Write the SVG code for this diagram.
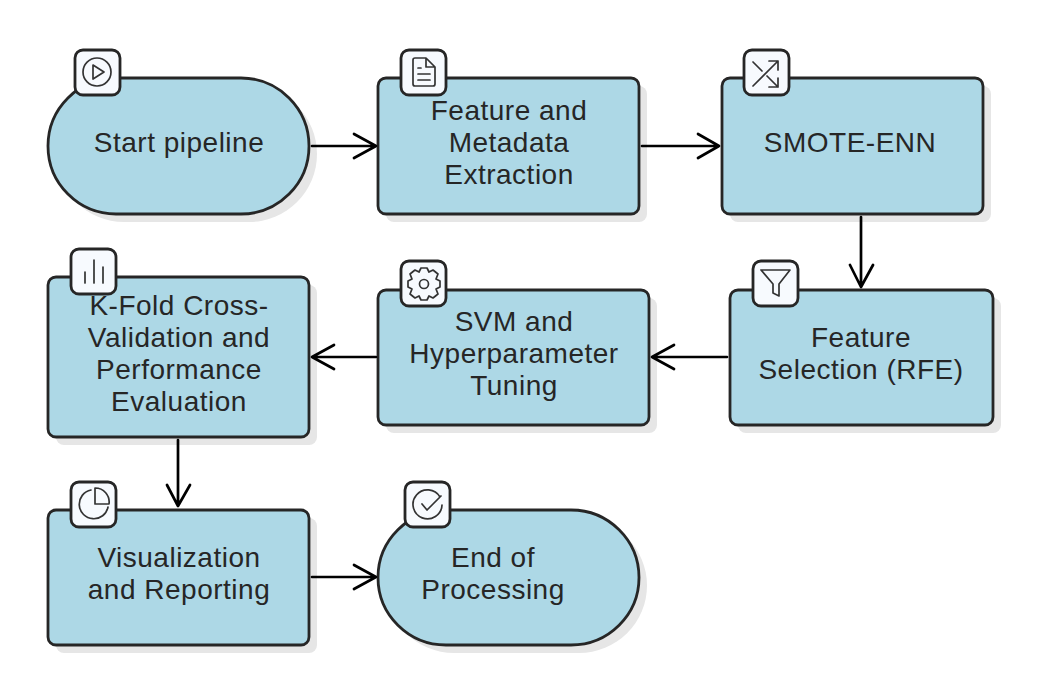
<svg xmlns="http://www.w3.org/2000/svg" width="1044" height="695" viewBox="0 0 1044 695">
<style>
.s{fill:#e6e6e6;stroke:none}
.b{fill:#add8e6;stroke:#262626;stroke-width:2.800}
.c{fill:#f7fafe;stroke:#262626;stroke-width:2.800}
.i{fill:none;stroke:#333;stroke-width:1.700;stroke-linecap:round;stroke-linejoin:round}
.t{font-family:"Liberation Sans",Arial,sans-serif;font-size:28px;letter-spacing:.5px;fill:#262626;text-anchor:middle}
.e{fill:none;stroke:#000;stroke-width:2.700;stroke-linecap:round;stroke-linejoin:round}
</style>
<g id="start">
<rect class="s" x="56" y="86" width="261" height="136" rx="68"/>
<rect class="b" x="48" y="78" width="261" height="136" rx="68"/>
<text class="t" x="179" y="152">Start pipeline</text>
<rect class="c" x="75" y="50" width="45" height="45" rx="8"/>
<circle class="i" cx="97" cy="72" r="14"/><path class="i" d="M93 65L104 72L93 79Z"/>
</g>
<g id="feature">
<rect class="s" x="386" y="86" width="261" height="136" rx="8"/>
<rect class="b" x="378" y="78" width="261" height="136" rx="8"/>
<text class="t" x="509" y="120">Feature and</text>
<text class="t" x="509" y="152">Metadata</text>
<text class="t" x="509" y="184">Extraction</text>
<rect class="c" x="401" y="50" width="45" height="45" rx="8"/>
<path class="i" d="M415 58H426L435 67V84Q435 86 433 86H415Q413 86 413 84V60Q413 58 415 58ZM426 58V67H435M418 68H421M418 74H430M418 80H430"/>
</g>
<g id="smote">
<rect class="s" x="730" y="86" width="261" height="136" rx="8"/>
<rect class="b" x="722" y="78" width="261" height="136" rx="8"/>
<text class="t" x="850" y="152">SMOTE-ENN</text>
<rect class="c" x="744" y="50" width="45" height="45" rx="8"/>
<path class="i" d="M753 86L778 61M769 61H778V70M753 62L762 71M767 76L778 87M769 87H778V78"/>
</g>
<g id="selection">
<rect class="s" x="738" y="298" width="263" height="135" rx="8"/>
<rect class="b" x="730" y="290" width="263" height="135" rx="8"/>
<text class="t" x="861" y="347">Feature</text>
<text class="t" x="861" y="379">Selection (RFE)</text>
<rect class="c" x="753" y="261" width="45" height="45" rx="8"/>
<path class="i" d="M761 270H790L779 284V296L773 293V284Z"/>
</g>
<g id="svm">
<rect class="s" x="386" y="298" width="271" height="135" rx="8"/>
<rect class="b" x="378" y="290" width="271" height="135" rx="8"/>
<text class="t" x="514" y="331">SVM and</text>
<text class="t" x="514" y="363">Hyperparameter</text>
<text class="t" x="514" y="395">Tuning</text>
<rect class="c" x="401" y="261" width="45" height="45" rx="8"/>
<circle class="i" cx="424" cy="284" r="4.500"/>
<path class="i" d="M421 268H427L429 272L433 270L438 274L436 279L440 281V287L436 289L438 294L433 298L429 296L427 300H421L419 296L415 298L410 294L412 289L408 287V281L412 279L410 274L415 270L419 272Z"/>
</g>
<g id="kfold">
<rect class="s" x="56" y="285" width="261" height="160" rx="8"/>
<rect class="b" x="48" y="277" width="261" height="160" rx="8"/>
<text class="t" x="179" y="315">K-Fold Cross-</text>
<text class="t" x="179" y="347">Validation and</text>
<text class="t" x="179" y="379">Performance</text>
<text class="t" x="179" y="411">Evaluation</text>
<rect class="c" x="71" y="249" width="45" height="45" rx="8"/>
<path class="i" d="M85 272V283M94 260V283M103 267V283"/>
</g>
<g id="visual">
<rect class="s" x="56" y="518" width="261" height="135" rx="8"/>
<rect class="b" x="48" y="510" width="261" height="135" rx="8"/>
<text class="t" x="179" y="567">Visualization</text>
<text class="t" x="179" y="599">and Reporting</text>
<rect class="c" x="71" y="482" width="45" height="45" rx="8"/>
<path class="i" d="M91 490A14.500 14.500 0 1 0 108 507M95 488A14 14 0 0 1 109 504H95Z"/>
</g>
<g id="end">
<rect class="s" x="386" y="518" width="261" height="135" rx="68"/>
<rect class="b" x="378" y="510" width="261" height="135" rx="68"/>
<text class="t" x="493" y="567">End of</text>
<text class="t" x="493" y="599">Processing</text>
<rect class="c" x="405" y="482" width="45" height="45" rx="8"/>
<path class="i" d="M440 497A14.500 14.500 0 1 0 442 505M422 504L427 510L441 496"/>
</g>
<g id="connectors">
<path class="e" d="M312 146H376M354 134L376 146L354 158"/>
<path class="e" d="M642 146H719M698 134L719 146L698 158"/>
<path class="e" d="M861 217V287M850 265L861 287L873 265"/>
<path class="e" d="M727 357H652M674 345L652 357L674 369"/>
<path class="e" d="M376 357H312M334 345L312 357L334 369"/>
<path class="e" d="M178 440V506M167 485L178 506L190 485"/>
<path class="e" d="M312 577H376M354 565L376 577L354 589"/>
</g>
</svg>
